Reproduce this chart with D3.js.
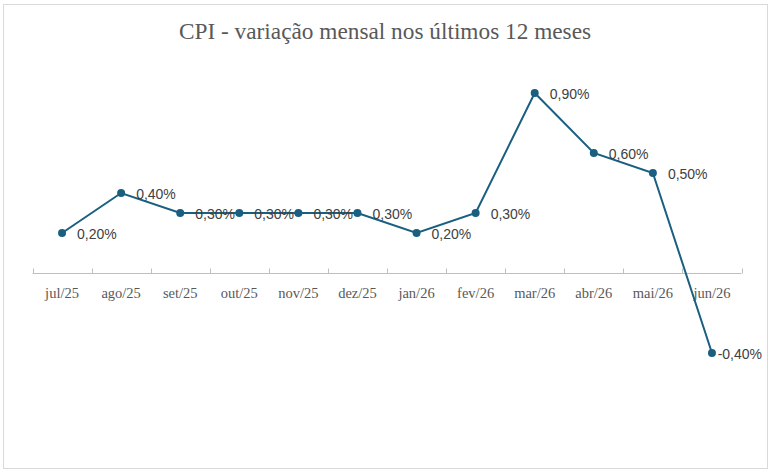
<!doctype html>
<html>
<head>
<meta charset="utf-8">
<title>CPI</title>
<script src="https://cdn.jsdelivr.net/npm/d3@7"></script>
<style>
  body { margin: 0; background: #fff; }
</style>
</head>
<body>
<div id="chart"></div>
<script>
// dados do gráfico
var months = ['jul/25', 'ago/25', 'set/25', 'out/25', 'nov/25', 'dez/25',
              'jan/26', 'fev/26', 'mar/26', 'abr/26', 'mai/26', 'jun/26'];
var cpiValues = [0.2, 0.4, 0.3, 0.3, 0.3, 0.3, 0.2, 0.3, 0.9, 0.6, 0.5, -0.4];
var titleText = 'CPI - variação mensal nos últimos 12 meses';

var width = 771, height = 472;
var lineColor = '#1a5f80';

var svg = d3.select('#chart').append('svg')
  .attr('width', width)
  .attr('height', height);

// borda do gráfico
svg.append('rect')
  .attr('x', 3.5).attr('y', 4.5)
  .attr('width', 764).attr('height', 464)
  .attr('fill', '#fff')
  .attr('stroke', '#d9d9d9')
  .attr('stroke-width', 1);

svg.append('text')
  .attr('x', 385)
  .attr('y', 38.5)
  .attr('text-anchor', 'middle')
  .attr('font-family', 'Liberation Serif, Times New Roman, serif')
  .attr('font-size', 23.3)
  .attr('fill', '#595959')
  .text(titleText);

var x = d3.scaleBand()
  .domain(months)
  .range([32.5, 741.5]);

var y = d3.scaleLinear()
  .domain([-0.4, 0.9])
  .range([353, 93]);

// eixo horizontal no zero
var axisG = svg.append('g')
  .attr('transform', 'translate(0,' + Math.round(y(0)) + '.5)');

axisG.append('line')
  .attr('x1', x.range()[0]).attr('x2', x.range()[1])
  .attr('stroke', '#bfbfbf');

var tickPos = months.map(function(m) { return x(m); }).concat([x.range()[1]]);
axisG.selectAll('line.tick')
  .data(tickPos)
  .enter().append('line')
  .attr('class', 'tick')
  .attr('x1', function(d) { return Math.round(d) + 0.5; })
  .attr('x2', function(d) { return Math.round(d) + 0.5; })
  .attr('y1', -5).attr('y2', 0)
  .attr('stroke', '#bfbfbf');

axisG.selectAll('text.lbl')
  .data(months)
  .enter().append('text')
  .attr('class', 'lbl')
  .attr('x', function(d) { return x(d) + x.bandwidth() / 2; })
  .attr('y', 24)
  .attr('text-anchor', 'middle')
  .attr('font-family', 'Liberation Serif, Times New Roman, serif')
  .attr('font-size', 14.5)
  .attr('fill', '#595959')
  .text(function(d) { return d; });

var pts = months.map(function(m, i) {
  return { m: m, v: cpiValues[i], cx: x(m) + x.bandwidth() / 2, cy: y(cpiValues[i]) };
});

var line = d3.line()
  .x(function(d) { return d.cx; })
  .y(function(d) { return d.cy; });

svg.append('path')
  .datum(pts)
  .attr('d', line)
  .attr('fill', 'none')
  .attr('stroke', lineColor)
  .attr('stroke-width', 2);

svg.selectAll('circle.pt')
  .data(pts)
  .enter().append('circle')
  .attr('class', 'pt')
  .attr('cx', function(d) { return d.cx; })
  .attr('cy', function(d) { return d.cy; })
  .attr('r', 4)
  .attr('fill', lineColor);

var fmt = function(v) { return v.toFixed(2).replace('.', ',') + '%'; };

svg.selectAll('text.val')
  .data(pts)
  .enter().append('text')
  .attr('class', 'val')
  .attr('y', function(d) { return d.cy + 5.5; })
  .attr('font-family', 'Liberation Sans, Arial, sans-serif')
  .attr('font-size', 14)
  .attr('fill', '#404040')
  .text(function(d) { return fmt(d.v); })
  .attr('x', function(d) {
    var w = this.getComputedTextLength();
    return Math.min(d.cx + 15, 762 - w);
  });
</script>
</body>
</html>
